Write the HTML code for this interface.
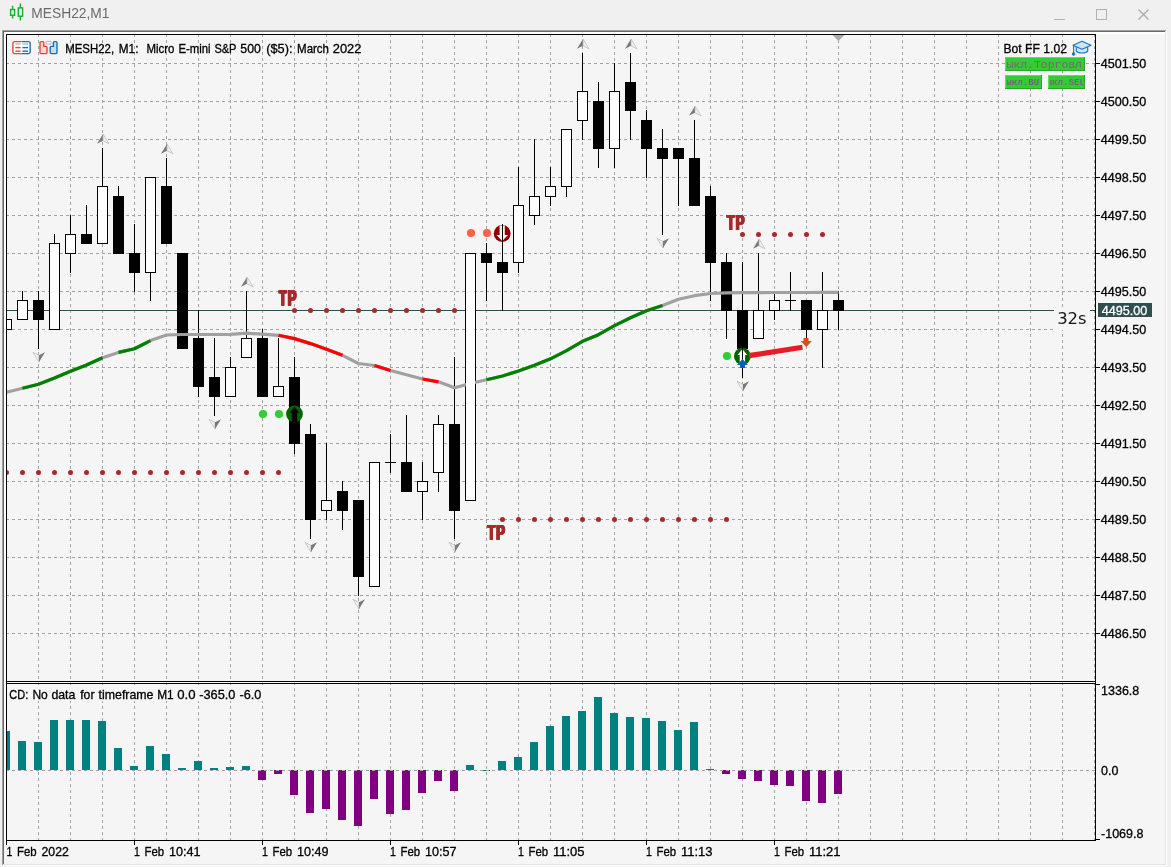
<!DOCTYPE html>
<html lang="en"><head><meta charset="utf-8"><title>MESH22,M1</title>
<style>
html,body{margin:0;padding:0;background:#f0f0f0;width:1171px;height:867px;overflow:hidden}
svg{display:block}
text{white-space:pre}
</style></head>
<body>
<svg width="1171" height="867" viewBox="0 0 1171 867">
<rect x="0" y="0" width="1171" height="867" fill="#f0f0f0" />
<rect x="2" y="30" width="1165" height="836" fill="#ffffff" />
<rect x="2" y="30" width="1164" height="835" fill="#a0a0a0" />
<rect x="3" y="31" width="1163" height="834" fill="#e3e3e3" />
<rect x="3" y="31" width="1162" height="833" fill="#696969" />
<rect x="4" y="32" width="1161" height="832" fill="#ffffff" />
<rect x="6" y="34" width="1159" height="830" fill="#f5f5f5" />
<rect x="1096" y="34" width="69" height="830" fill="#f5f5f5" />
<rect x="4" y="845" width="2" height="19" fill="#f5f5f5" />
<rect x="4" y="841" width="2" height="4" fill="#f5f5f5" />
<g fill="#daf8de" stroke="#1fa934" stroke-width="1.4">
<path d="M12.6 5.7V18.4M20.4 3.6V20.5" fill="none"/>
<rect x="10.6" y="9.5" width="4" height="5.8"/>
<rect x="18.3" y="7.9" width="4.3" height="8.3"/>
</g>
<text x="31.3" y="17.7" font-size="15.4" fill="#6a6a6a" stroke="#6a6a6a" stroke-width="0" font-family='"Liberation Sans", sans-serif' textLength="78.2" lengthAdjust="spacingAndGlyphs" >MESH22,M1</text>
<g shape-rendering="crispEdges" fill="none" stroke="#b2b2b2" stroke-width="1">
<path d="M1054 19.5H1065"/>
<rect x="1096.5" y="9.5" width="10" height="10"/>
</g>
<path d="M1138.5 9.5L1148.5 19.5M1148.5 9.5L1138.5 19.5" stroke="#aaaaaa" stroke-width="1.25" fill="none"/>
<g shape-rendering="crispEdges" stroke="#a2a2a2" stroke-width="1" fill="none" stroke-dasharray="3 3">
<path d="M6 63.5H1095"/>
<path d="M6 101.5H1095"/>
<path d="M6 139.5H1095"/>
<path d="M6 177.5H1095"/>
<path d="M6 215.5H1095"/>
<path d="M6 253.5H1095"/>
<path d="M6 291.5H1095"/>
<path d="M6 329.5H1095"/>
<path d="M6 367.5H1095"/>
<path d="M6 405.5H1095"/>
<path d="M6 443.5H1095"/>
<path d="M6 481.5H1095"/>
<path d="M6 519.5H1095"/>
<path d="M6 557.5H1095"/>
<path d="M6 595.5H1095"/>
<path d="M6 633.5H1095"/>
<path d="M38.5 34V681"/>
<path d="M38.5 682V840"/>
<path d="M70.5 34V681"/>
<path d="M70.5 682V840"/>
<path d="M102.5 34V681"/>
<path d="M102.5 682V840"/>
<path d="M134.5 34V681"/>
<path d="M134.5 682V840"/>
<path d="M166.5 34V681"/>
<path d="M166.5 682V840"/>
<path d="M198.5 34V681"/>
<path d="M198.5 682V840"/>
<path d="M230.5 34V681"/>
<path d="M230.5 682V840"/>
<path d="M262.5 34V681"/>
<path d="M262.5 682V840"/>
<path d="M294.5 34V681"/>
<path d="M294.5 682V840"/>
<path d="M326.5 34V681"/>
<path d="M326.5 682V840"/>
<path d="M358.5 34V681"/>
<path d="M358.5 682V840"/>
<path d="M390.5 34V681"/>
<path d="M390.5 682V840"/>
<path d="M422.5 34V681"/>
<path d="M422.5 682V840"/>
<path d="M454.5 34V681"/>
<path d="M454.5 682V840"/>
<path d="M486.5 34V681"/>
<path d="M486.5 682V840"/>
<path d="M518.5 34V681"/>
<path d="M518.5 682V840"/>
<path d="M550.5 34V681"/>
<path d="M550.5 682V840"/>
<path d="M582.5 34V681"/>
<path d="M582.5 682V840"/>
<path d="M614.5 34V681"/>
<path d="M614.5 682V840"/>
<path d="M646.5 34V681"/>
<path d="M646.5 682V840"/>
<path d="M678.5 34V681"/>
<path d="M678.5 682V840"/>
<path d="M710.5 34V681"/>
<path d="M710.5 682V840"/>
<path d="M742.5 34V681"/>
<path d="M742.5 682V840"/>
<path d="M774.5 34V681"/>
<path d="M774.5 682V840"/>
<path d="M806.5 34V681"/>
<path d="M806.5 682V840"/>
<path d="M838.5 34V681"/>
<path d="M838.5 682V840"/>
<path d="M870.5 34V681"/>
<path d="M870.5 682V840"/>
<path d="M902.5 34V681"/>
<path d="M902.5 682V840"/>
<path d="M934.5 34V681"/>
<path d="M934.5 682V840"/>
<path d="M966.5 34V681"/>
<path d="M966.5 682V840"/>
<path d="M998.5 34V681"/>
<path d="M998.5 682V840"/>
<path d="M1030.5 34V681"/>
<path d="M1030.5 682V840"/>
<path d="M1062.5 34V681"/>
<path d="M1062.5 682V840"/>
<path d="M1094.5 34V681"/>
<path d="M1094.5 682V840"/>
</g>
<rect x="1054" y="309" width="36" height="21" fill="#f5f5f5" />
<rect x="7" y="310" width="1047" height="1" fill="#2f4f4f" shape-rendering="crispEdges"/>
<rect x="1090" y="310" width="6" height="1" fill="#2f4f4f" shape-rendering="crispEdges"/>
<g shape-rendering="crispEdges">
<rect x="7" y="731" width="3" height="39" fill="#008080" />
<rect x="18" y="741" width="8" height="29" fill="#008080" />
<rect x="34" y="742" width="8" height="28" fill="#008080" />
<rect x="50" y="720" width="8" height="50" fill="#008080" />
<rect x="66" y="720" width="8" height="50" fill="#008080" />
<rect x="82" y="720" width="8" height="50" fill="#008080" />
<rect x="98" y="721" width="8" height="49" fill="#008080" />
<rect x="114" y="748" width="8" height="22" fill="#008080" />
<rect x="130" y="766" width="8" height="4" fill="#008080" />
<rect x="146" y="746" width="8" height="24" fill="#008080" />
<rect x="162" y="754" width="8" height="16" fill="#008080" />
<rect x="178" y="768" width="8" height="2" fill="#008080" />
<rect x="194" y="761" width="8" height="9" fill="#008080" />
<rect x="210" y="768" width="8" height="2" fill="#008080" />
<rect x="226" y="767" width="8" height="3" fill="#008080" />
<rect x="242" y="766" width="8" height="4" fill="#008080" />
<rect x="258" y="770" width="8" height="10" fill="#800080" />
<rect x="274" y="770" width="8" height="4" fill="#800080" />
<rect x="290" y="770" width="8" height="25" fill="#800080" />
<rect x="306" y="770" width="8" height="43" fill="#800080" />
<rect x="322" y="770" width="8" height="39" fill="#800080" />
<rect x="338" y="770" width="8" height="50" fill="#800080" />
<rect x="354" y="770" width="8" height="56" fill="#800080" />
<rect x="370" y="770" width="8" height="29" fill="#800080" />
<rect x="386" y="770" width="8" height="44" fill="#800080" />
<rect x="402" y="770" width="8" height="40" fill="#800080" />
<rect x="418" y="770" width="8" height="23" fill="#800080" />
<rect x="434" y="770" width="8" height="11" fill="#800080" />
<rect x="450" y="770" width="8" height="21" fill="#800080" />
<rect x="466" y="765" width="8" height="5" fill="#008080" />
<rect x="482" y="770" width="8" height="1" fill="#008080" />
<rect x="498" y="761" width="8" height="9" fill="#008080" />
<rect x="514" y="757" width="8" height="13" fill="#008080" />
<rect x="530" y="742" width="8" height="28" fill="#008080" />
<rect x="546" y="726" width="8" height="44" fill="#008080" />
<rect x="562" y="716" width="8" height="54" fill="#008080" />
<rect x="578" y="711" width="8" height="59" fill="#008080" />
<rect x="594" y="697" width="8" height="73" fill="#008080" />
<rect x="610" y="713" width="8" height="57" fill="#008080" />
<rect x="626" y="717" width="8" height="53" fill="#008080" />
<rect x="642" y="718" width="8" height="52" fill="#008080" />
<rect x="658" y="721" width="8" height="49" fill="#008080" />
<rect x="674" y="730" width="8" height="40" fill="#008080" />
<rect x="690" y="722" width="8" height="48" fill="#008080" />
<rect x="706" y="769" width="8" height="1" fill="#008080" />
<rect x="722" y="770" width="8" height="4" fill="#800080" />
<rect x="738" y="770" width="8" height="9" fill="#800080" />
<rect x="754" y="770" width="8" height="11" fill="#800080" />
<rect x="770" y="770" width="8" height="15" fill="#800080" />
<rect x="786" y="770" width="8" height="16" fill="#800080" />
<rect x="802" y="770" width="8" height="31" fill="#800080" />
<rect x="818" y="770" width="8" height="33" fill="#800080" />
<rect x="834" y="770" width="8" height="24" fill="#800080" />
</g>
<path d="M6 770.5H1095" shape-rendering="crispEdges" stroke="#a2a2a2" stroke-width="1" fill="none" stroke-dasharray="3 3"/>
<circle cx="6.5" cy="472.5" r="2.5" fill="#a52a2a"/>
<circle cx="22.5" cy="472.5" r="2.5" fill="#a52a2a"/>
<circle cx="38.5" cy="472.5" r="2.5" fill="#a52a2a"/>
<circle cx="54.5" cy="472.5" r="2.5" fill="#a52a2a"/>
<circle cx="70.5" cy="472.5" r="2.5" fill="#a52a2a"/>
<circle cx="86.5" cy="472.5" r="2.5" fill="#a52a2a"/>
<circle cx="102.5" cy="472.5" r="2.5" fill="#a52a2a"/>
<circle cx="118.5" cy="472.5" r="2.5" fill="#a52a2a"/>
<circle cx="134.5" cy="472.5" r="2.5" fill="#a52a2a"/>
<circle cx="150.5" cy="472.5" r="2.5" fill="#a52a2a"/>
<circle cx="166.5" cy="472.5" r="2.5" fill="#a52a2a"/>
<circle cx="182.5" cy="472.5" r="2.5" fill="#a52a2a"/>
<circle cx="198.5" cy="472.5" r="2.5" fill="#a52a2a"/>
<circle cx="214.5" cy="472.5" r="2.5" fill="#a52a2a"/>
<circle cx="230.5" cy="472.5" r="2.5" fill="#a52a2a"/>
<circle cx="246.5" cy="472.5" r="2.5" fill="#a52a2a"/>
<circle cx="262.5" cy="472.5" r="2.5" fill="#a52a2a"/>
<circle cx="278.5" cy="472.5" r="2.5" fill="#a52a2a"/>
<circle cx="263" cy="414" r="4.1" fill="#32cd32"/>
<circle cx="279" cy="414" r="4.1" fill="#32cd32"/>
<circle cx="471" cy="233" r="4.1" fill="#ff6347"/>
<circle cx="487" cy="233" r="4.1" fill="#ff6347"/>
<circle cx="727" cy="356" r="4.1" fill="#32cd32"/>
<g shape-rendering="crispEdges">
<rect x="7" y="319" width="5" height="11" fill="#000" />
<rect x="7" y="320" width="4" height="9" fill="#fff" />
<rect x="22" y="291" width="1" height="29" fill="#000" />
<rect x="17" y="300" width="11" height="20" fill="#000" />
<rect x="18" y="301" width="9" height="18" fill="#fff" />
<rect x="38" y="291" width="1" height="58" fill="#000" />
<rect x="33" y="300" width="11" height="20" fill="#000" />
<rect x="54" y="234" width="1" height="96" fill="#000" />
<rect x="49" y="243" width="11" height="87" fill="#000" />
<rect x="50" y="244" width="9" height="85" fill="#fff" />
<rect x="70" y="215" width="1" height="58" fill="#000" />
<rect x="65" y="234" width="11" height="20" fill="#000" />
<rect x="66" y="235" width="9" height="18" fill="#fff" />
<rect x="86" y="205" width="1" height="39" fill="#000" />
<rect x="81" y="234" width="11" height="10" fill="#000" />
<rect x="102" y="148" width="1" height="96" fill="#000" />
<rect x="97" y="186" width="11" height="58" fill="#000" />
<rect x="98" y="187" width="9" height="56" fill="#fff" />
<rect x="118" y="186" width="1" height="68" fill="#000" />
<rect x="113" y="196" width="11" height="58" fill="#000" />
<rect x="134" y="224" width="1" height="68" fill="#000" />
<rect x="129" y="253" width="11" height="20" fill="#000" />
<rect x="150" y="177" width="1" height="124" fill="#000" />
<rect x="145" y="177" width="11" height="96" fill="#000" />
<rect x="146" y="178" width="9" height="94" fill="#fff" />
<rect x="166" y="158" width="1" height="86" fill="#000" />
<rect x="161" y="186" width="11" height="58" fill="#000" />
<rect x="182" y="253" width="1" height="96" fill="#000" />
<rect x="177" y="253" width="11" height="96" fill="#000" />
<rect x="198" y="310" width="1" height="87" fill="#000" />
<rect x="193" y="338" width="11" height="49" fill="#000" />
<rect x="214" y="338" width="1" height="78" fill="#000" />
<rect x="209" y="377" width="11" height="20" fill="#000" />
<rect x="230" y="357" width="1" height="40" fill="#000" />
<rect x="225" y="367" width="11" height="30" fill="#000" />
<rect x="226" y="368" width="9" height="28" fill="#fff" />
<rect x="246" y="291" width="1" height="67" fill="#000" />
<rect x="241" y="338" width="11" height="20" fill="#000" />
<rect x="242" y="339" width="9" height="18" fill="#fff" />
<rect x="262" y="329" width="1" height="68" fill="#000" />
<rect x="257" y="338" width="11" height="59" fill="#000" />
<rect x="278" y="338" width="1" height="59" fill="#000" />
<rect x="273" y="386" width="11" height="11" fill="#000" />
<rect x="274" y="387" width="9" height="9" fill="#fff" />
<rect x="294" y="357" width="1" height="97" fill="#000" />
<rect x="289" y="377" width="11" height="67" fill="#000" />
<rect x="310" y="424" width="1" height="115" fill="#000" />
<rect x="305" y="434" width="11" height="86" fill="#000" />
<rect x="326" y="443" width="1" height="77" fill="#000" />
<rect x="321" y="500" width="11" height="11" fill="#000" />
<rect x="322" y="501" width="9" height="9" fill="#fff" />
<rect x="342" y="481" width="1" height="49" fill="#000" />
<rect x="337" y="491" width="11" height="20" fill="#000" />
<rect x="358" y="500" width="1" height="96" fill="#000" />
<rect x="353" y="500" width="11" height="77" fill="#000" />
<rect x="374" y="462" width="1" height="125" fill="#000" />
<rect x="369" y="462" width="11" height="125" fill="#000" />
<rect x="370" y="463" width="9" height="123" fill="#fff" />
<rect x="390" y="434" width="1" height="39" fill="#000" />
<rect x="385" y="462" width="11" height="1" fill="#000" />
<rect x="406" y="415" width="1" height="77" fill="#000" />
<rect x="401" y="462" width="11" height="30" fill="#000" />
<rect x="422" y="462" width="1" height="58" fill="#000" />
<rect x="417" y="481" width="11" height="11" fill="#000" />
<rect x="418" y="482" width="9" height="9" fill="#fff" />
<rect x="438" y="415" width="1" height="77" fill="#000" />
<rect x="433" y="424" width="11" height="49" fill="#000" />
<rect x="434" y="425" width="9" height="47" fill="#fff" />
<rect x="454" y="357" width="1" height="182" fill="#000" />
<rect x="449" y="424" width="11" height="87" fill="#000" />
<rect x="470" y="253" width="1" height="248" fill="#000" />
<rect x="465" y="253" width="11" height="248" fill="#000" />
<rect x="466" y="254" width="9" height="246" fill="#fff" />
<rect x="486" y="243" width="1" height="58" fill="#000" />
<rect x="481" y="253" width="11" height="10" fill="#000" />
<rect x="502" y="224" width="1" height="87" fill="#000" />
<rect x="497" y="262" width="11" height="11" fill="#000" />
<rect x="518" y="167" width="1" height="106" fill="#000" />
<rect x="513" y="205" width="11" height="58" fill="#000" />
<rect x="514" y="206" width="9" height="56" fill="#fff" />
<rect x="534" y="139" width="1" height="86" fill="#000" />
<rect x="529" y="196" width="11" height="20" fill="#000" />
<rect x="530" y="197" width="9" height="18" fill="#fff" />
<rect x="550" y="167" width="1" height="39" fill="#000" />
<rect x="545" y="186" width="11" height="11" fill="#000" />
<rect x="546" y="187" width="9" height="9" fill="#fff" />
<rect x="566" y="129" width="1" height="68" fill="#000" />
<rect x="561" y="129" width="11" height="58" fill="#000" />
<rect x="562" y="130" width="9" height="56" fill="#fff" />
<rect x="582" y="53" width="1" height="87" fill="#000" />
<rect x="577" y="91" width="11" height="30" fill="#000" />
<rect x="578" y="92" width="9" height="28" fill="#fff" />
<rect x="598" y="82" width="1" height="86" fill="#000" />
<rect x="593" y="101" width="11" height="48" fill="#000" />
<rect x="614" y="63" width="1" height="105" fill="#000" />
<rect x="609" y="91" width="11" height="58" fill="#000" />
<rect x="610" y="92" width="9" height="56" fill="#fff" />
<rect x="630" y="53" width="1" height="87" fill="#000" />
<rect x="625" y="82" width="11" height="29" fill="#000" />
<rect x="646" y="110" width="1" height="68" fill="#000" />
<rect x="641" y="120" width="11" height="29" fill="#000" />
<rect x="662" y="129" width="1" height="106" fill="#000" />
<rect x="657" y="148" width="11" height="11" fill="#000" />
<rect x="678" y="148" width="1" height="58" fill="#000" />
<rect x="673" y="148" width="11" height="11" fill="#000" />
<rect x="694" y="120" width="1" height="86" fill="#000" />
<rect x="689" y="158" width="11" height="48" fill="#000" />
<rect x="710" y="186" width="1" height="115" fill="#000" />
<rect x="705" y="196" width="11" height="67" fill="#000" />
<rect x="726" y="253" width="1" height="86" fill="#000" />
<rect x="721" y="262" width="11" height="49" fill="#000" />
<rect x="742" y="262" width="1" height="116" fill="#000" />
<rect x="737" y="310" width="11" height="39" fill="#000" />
<rect x="758" y="253" width="1" height="86" fill="#000" />
<rect x="753" y="310" width="11" height="29" fill="#000" />
<rect x="754" y="311" width="9" height="27" fill="#fff" />
<rect x="774" y="291" width="1" height="29" fill="#000" />
<rect x="769" y="300" width="11" height="11" fill="#000" />
<rect x="770" y="301" width="9" height="9" fill="#fff" />
<rect x="790" y="272" width="1" height="39" fill="#000" />
<rect x="785" y="300" width="11" height="1" fill="#000" />
<rect x="806" y="300" width="1" height="39" fill="#000" />
<rect x="801" y="300" width="11" height="30" fill="#000" />
<rect x="822" y="272" width="1" height="96" fill="#000" />
<rect x="817" y="310" width="11" height="20" fill="#000" />
<rect x="818" y="311" width="9" height="18" fill="#fff" />
<rect x="838" y="291" width="1" height="39" fill="#000" />
<rect x="833" y="300" width="11" height="11" fill="#000" />
</g>
<path d="M103 134L97 143.8L103 140.8Z" fill="#787878"/>
<path d="M103 134L109 143.8L103 140.8Z" fill="#f0f0f0" stroke="#b4b4c0" stroke-width="0.7"/>
<path d="M167 144L161 153.8L167 150.8Z" fill="#787878"/>
<path d="M167 144L173 153.8L167 150.8Z" fill="#f0f0f0" stroke="#b4b4c0" stroke-width="0.7"/>
<path d="M247 277L241 286.8L247 283.8Z" fill="#787878"/>
<path d="M247 277L253 286.8L247 283.8Z" fill="#f0f0f0" stroke="#b4b4c0" stroke-width="0.7"/>
<path d="M583 39L577 48.8L583 45.8Z" fill="#787878"/>
<path d="M583 39L589 48.8L583 45.8Z" fill="#f0f0f0" stroke="#b4b4c0" stroke-width="0.7"/>
<path d="M631 39L625 48.8L631 45.8Z" fill="#787878"/>
<path d="M631 39L637 48.8L631 45.8Z" fill="#f0f0f0" stroke="#b4b4c0" stroke-width="0.7"/>
<path d="M695 106L689 115.8L695 112.8Z" fill="#787878"/>
<path d="M695 106L701 115.8L695 112.8Z" fill="#f0f0f0" stroke="#b4b4c0" stroke-width="0.7"/>
<path d="M759 239L753 248.8L759 245.8Z" fill="#787878"/>
<path d="M759 239L765 248.8L759 245.8Z" fill="#f0f0f0" stroke="#b4b4c0" stroke-width="0.7"/>
<path d="M39 362.1L33 352.3L39 355.3Z" fill="#f0f0f0" stroke="#b4b4c0" stroke-width="0.7"/>
<path d="M39 362.1L45 352.3L39 355.3Z" fill="#787878"/>
<path d="M215 429.1L209 419.3L215 422.3Z" fill="#f0f0f0" stroke="#b4b4c0" stroke-width="0.7"/>
<path d="M215 429.1L221 419.3L215 422.3Z" fill="#787878"/>
<path d="M311 552.1L305 542.3L311 545.3Z" fill="#f0f0f0" stroke="#b4b4c0" stroke-width="0.7"/>
<path d="M311 552.1L317 542.3L311 545.3Z" fill="#787878"/>
<path d="M359 609.1L353 599.3L359 602.3Z" fill="#f0f0f0" stroke="#b4b4c0" stroke-width="0.7"/>
<path d="M359 609.1L365 599.3L359 602.3Z" fill="#787878"/>
<path d="M455 552.1L449 542.3L455 545.3Z" fill="#f0f0f0" stroke="#b4b4c0" stroke-width="0.7"/>
<path d="M455 552.1L461 542.3L455 545.3Z" fill="#787878"/>
<path d="M663 248.1L657 238.3L663 241.3Z" fill="#f0f0f0" stroke="#b4b4c0" stroke-width="0.7"/>
<path d="M663 248.1L669 238.3L663 241.3Z" fill="#787878"/>
<path d="M743 391.1L737 381.3L743 384.3Z" fill="#f0f0f0" stroke="#b4b4c0" stroke-width="0.7"/>
<path d="M743 391.1L749 381.3L743 384.3Z" fill="#787878"/>
<polyline points="6.5,392.3 22.5,388.3 38.5,384.2 54.5,378 70.5,371.3 86.5,365 102.5,357.7 118.5,352.4 134.5,348.7 150.5,340.6 166.5,335 182.5,334.5 198.5,334.5 214.5,334.5 230.5,334.3 246.5,333.2 262.5,334.2 278.5,335.3 294.5,338.6 310.5,343.6 326.5,349.3 342.5,355.3 358.5,363.5 374.5,365.5 390.5,370.5 406.5,374.7 422.5,379 438.5,381.8 454.5,387.7 470.5,383.5 486.5,379.7 502.5,376 518.5,371 534.5,365.3 550.5,358.8 566.5,350.6 582.5,341.3 598.5,334.7 614.5,325.6 630.5,317.7 646.5,310.8 662.5,305.6 678.5,299.3 694.5,295.7 710.5,293.5 726.5,292.8 742.5,292.6 758.5,292.6 774.5,292.5 790.5,292.5 806.5,292.5 822.5,292.4 838.5,292.3" fill="none" stroke="#a0a0a0" stroke-width="3.2" stroke-linejoin="round"/>
<polyline points="22.5,388.3 38.5,384.2 54.5,378 70.5,371.3 86.5,365 102.5,357.7" fill="none" stroke="#008000" stroke-width="3.2" stroke-linejoin="round"/>
<polyline points="118.5,352.4 134.5,348.7 150.5,340.6" fill="none" stroke="#008000" stroke-width="3.2" stroke-linejoin="round"/>
<polyline points="278.5,335.3 294.5,338.6 310.5,343.6 326.5,349.3 342.5,355.3" fill="none" stroke="#ff0000" stroke-width="3.2" stroke-linejoin="round"/>
<polyline points="374.5,365.5 390.5,370.5" fill="none" stroke="#ff0000" stroke-width="3.2" stroke-linejoin="round"/>
<polyline points="422.5,379 438.5,381.8" fill="none" stroke="#ff0000" stroke-width="3.2" stroke-linejoin="round"/>
<polyline points="486.5,379.7 502.5,376 518.5,371 534.5,365.3 550.5,358.8 566.5,350.6 582.5,341.3 598.5,334.7 614.5,325.6 630.5,317.7 646.5,310.8 662.5,305.6" fill="none" stroke="#008000" stroke-width="3.2" stroke-linejoin="round"/>
<g shape-rendering="crispEdges">
<rect x="18" y="301" width="9" height="18" fill="#fff" />
<rect x="50" y="244" width="9" height="85" fill="#fff" />
<rect x="66" y="235" width="9" height="18" fill="#fff" />
<rect x="98" y="187" width="9" height="56" fill="#fff" />
<rect x="146" y="178" width="9" height="94" fill="#fff" />
<rect x="226" y="368" width="9" height="28" fill="#fff" />
<rect x="242" y="339" width="9" height="18" fill="#fff" />
<rect x="274" y="387" width="9" height="9" fill="#fff" />
<rect x="322" y="501" width="9" height="9" fill="#fff" />
<rect x="370" y="463" width="9" height="123" fill="#fff" />
<rect x="418" y="482" width="9" height="9" fill="#fff" />
<rect x="434" y="425" width="9" height="47" fill="#fff" />
<rect x="466" y="254" width="9" height="246" fill="#fff" />
<rect x="514" y="206" width="9" height="56" fill="#fff" />
<rect x="530" y="197" width="9" height="18" fill="#fff" />
<rect x="546" y="187" width="9" height="9" fill="#fff" />
<rect x="562" y="130" width="9" height="56" fill="#fff" />
<rect x="578" y="92" width="9" height="28" fill="#fff" />
<rect x="610" y="92" width="9" height="56" fill="#fff" />
<rect x="754" y="311" width="9" height="27" fill="#fff" />
<rect x="770" y="301" width="9" height="9" fill="#fff" />
<rect x="818" y="311" width="9" height="18" fill="#fff" />
</g>
<circle cx="294.5" cy="310.5" r="2.5" fill="#a52a2a"/>
<circle cx="310.5" cy="310.5" r="2.5" fill="#a52a2a"/>
<circle cx="326.5" cy="310.5" r="2.5" fill="#a52a2a"/>
<circle cx="342.5" cy="310.5" r="2.5" fill="#a52a2a"/>
<circle cx="358.5" cy="310.5" r="2.5" fill="#a52a2a"/>
<circle cx="374.5" cy="310.5" r="2.5" fill="#a52a2a"/>
<circle cx="390.5" cy="310.5" r="2.5" fill="#a52a2a"/>
<circle cx="406.5" cy="310.5" r="2.5" fill="#a52a2a"/>
<circle cx="422.5" cy="310.5" r="2.5" fill="#a52a2a"/>
<circle cx="438.5" cy="310.5" r="2.5" fill="#a52a2a"/>
<circle cx="454.5" cy="310.5" r="2.5" fill="#a52a2a"/>
<circle cx="502.5" cy="519.5" r="2.5" fill="#a52a2a"/>
<circle cx="518.5" cy="519.5" r="2.5" fill="#a52a2a"/>
<circle cx="534.5" cy="519.5" r="2.5" fill="#a52a2a"/>
<circle cx="550.5" cy="519.5" r="2.5" fill="#a52a2a"/>
<circle cx="566.5" cy="519.5" r="2.5" fill="#a52a2a"/>
<circle cx="582.5" cy="519.5" r="2.5" fill="#a52a2a"/>
<circle cx="598.5" cy="519.5" r="2.5" fill="#a52a2a"/>
<circle cx="614.5" cy="519.5" r="2.5" fill="#a52a2a"/>
<circle cx="630.5" cy="519.5" r="2.5" fill="#a52a2a"/>
<circle cx="646.5" cy="519.5" r="2.5" fill="#a52a2a"/>
<circle cx="662.5" cy="519.5" r="2.5" fill="#a52a2a"/>
<circle cx="678.5" cy="519.5" r="2.5" fill="#a52a2a"/>
<circle cx="694.5" cy="519.5" r="2.5" fill="#a52a2a"/>
<circle cx="710.5" cy="519.5" r="2.5" fill="#a52a2a"/>
<circle cx="726.5" cy="519.5" r="2.5" fill="#a52a2a"/>
<circle cx="742.5" cy="234.5" r="2.5" fill="#a52a2a"/>
<circle cx="758.5" cy="234.5" r="2.5" fill="#a52a2a"/>
<circle cx="774.5" cy="234.5" r="2.5" fill="#a52a2a"/>
<circle cx="790.5" cy="234.5" r="2.5" fill="#a52a2a"/>
<circle cx="806.5" cy="234.5" r="2.5" fill="#a52a2a"/>
<circle cx="822.5" cy="234.5" r="2.5" fill="#a52a2a"/>
<g fill="#a52a2a" font-family='"Liberation Sans", sans-serif' font-weight="bold" font-size="22.8" letter-spacing="1.75">
<text transform="translate(278.15,305.8) scale(0.568,1)">TP</text>
<text transform="translate(278.85,305.8) scale(0.568,1)">TP</text>
<text transform="translate(279.55,305.8) scale(0.568,1)">TP</text>
<text transform="translate(278.15,305.3) scale(0.568,1)">TP</text>
<text transform="translate(278.85,305.3) scale(0.568,1)">TP</text>
<text transform="translate(279.55,305.3) scale(0.568,1)">TP</text>
</g>
<g fill="#a52a2a" font-family='"Liberation Sans", sans-serif' font-weight="bold" font-size="22.8" letter-spacing="1.75">
<text transform="translate(486.65,540.2) scale(0.568,1)">TP</text>
<text transform="translate(487.35,540.2) scale(0.568,1)">TP</text>
<text transform="translate(488.05,540.2) scale(0.568,1)">TP</text>
<text transform="translate(486.65,539.7) scale(0.568,1)">TP</text>
<text transform="translate(487.35,539.7) scale(0.568,1)">TP</text>
<text transform="translate(488.05,539.7) scale(0.568,1)">TP</text>
</g>
<g fill="#a52a2a" font-family='"Liberation Sans", sans-serif' font-weight="bold" font-size="22.8" letter-spacing="1.75">
<text transform="translate(726.15,230) scale(0.568,1)">TP</text>
<text transform="translate(726.85,230) scale(0.568,1)">TP</text>
<text transform="translate(727.55,230) scale(0.568,1)">TP</text>
<text transform="translate(726.15,229.5) scale(0.568,1)">TP</text>
<text transform="translate(726.85,229.5) scale(0.568,1)">TP</text>
<text transform="translate(727.55,229.5) scale(0.568,1)">TP</text>
</g>
<circle cx="294.5" cy="414" r="8.4" fill="#006400"/>
<path d="M294.5 406.8L299.3 412.8H297.2V422H291.8V412.8H289.7Z" fill="#000"/>
<circle cx="502.2" cy="233.5" r="8.4" fill="#8b0000"/>
<path d="M502.2 240.9L508 235.1H504.8V225.5H499.6V235.1H496.4Z" fill="#f5f5f5"/>
<rect x="502" y="224" width="1" height="22" fill="#000" shape-rendering="crispEdges"/>
<circle cx="742.4" cy="356.2" r="8.4" fill="#006400"/>
<path d="M742.4 349L747.2 355H745.1V364.2H739.7V355H737.6Z" fill="#fff"/>
<rect x="742" y="347" width="1" height="16" fill="#000" shape-rendering="crispEdges"/>
<path d="M749 355.6L802.5 347.3" stroke="#e81c24" stroke-width="5.2" fill="none"/>
<path d="M803.5 338H808.5V341H811.8L806.3 347L800.8 341H803.5Z" fill="#de4a1c"/>
<path d="M742.5 359L748 365H745V368H740V365H737Z" fill="#0b5fb8"/>
<g shape-rendering="crispEdges">
<rect x="4" y="34" width="2" height="807" fill="#fff" />
<rect x="6" y="34" width="1090" height="1" fill="#000" />
<rect x="6" y="681" width="1090" height="1" fill="#000" />
<rect x="6" y="682" width="1090" height="1" fill="#fafafa" />
<rect x="6" y="683" width="1090" height="1" fill="#000" />
<rect x="6" y="840" width="1090" height="1" fill="#000" />
<rect x="6" y="34" width="1" height="811" fill="#000" />
<rect x="1095" y="34" width="1" height="807" fill="#000" />
<path d="M832.5 35H844.5L838.5 41Z" fill="#a9a9a9" shape-rendering="geometricPrecision"/>
<rect x="1096" y="63" width="4" height="1" fill="#000" />
<rect x="1096" y="101" width="4" height="1" fill="#000" />
<rect x="1096" y="139" width="4" height="1" fill="#000" />
<rect x="1096" y="177" width="4" height="1" fill="#000" />
<rect x="1096" y="215" width="4" height="1" fill="#000" />
<rect x="1096" y="253" width="4" height="1" fill="#000" />
<rect x="1096" y="291" width="4" height="1" fill="#000" />
<rect x="1096" y="329" width="4" height="1" fill="#000" />
<rect x="1096" y="367" width="4" height="1" fill="#000" />
<rect x="1096" y="405" width="4" height="1" fill="#000" />
<rect x="1096" y="443" width="4" height="1" fill="#000" />
<rect x="1096" y="481" width="4" height="1" fill="#000" />
<rect x="1096" y="519" width="4" height="1" fill="#000" />
<rect x="1096" y="557" width="4" height="1" fill="#000" />
<rect x="1096" y="595" width="4" height="1" fill="#000" />
<rect x="1096" y="633" width="4" height="1" fill="#000" />
<rect x="1096" y="684" width="4" height="1" fill="#000" />
<rect x="1096" y="839" width="4" height="1" fill="#000" />
<rect x="134" y="841" width="1" height="4" fill="#000" />
<rect x="262" y="841" width="1" height="4" fill="#000" />
<rect x="390" y="841" width="1" height="4" fill="#000" />
<rect x="518" y="841" width="1" height="4" fill="#000" />
<rect x="646" y="841" width="1" height="4" fill="#000" />
<rect x="774" y="841" width="1" height="4" fill="#000" />
</g>
<text x="1100.7" y="67.8" font-size="12.4" fill="#000" stroke="#000" stroke-width="0.3" font-family='"Liberation Sans", sans-serif' textLength="45.6" lengthAdjust="spacingAndGlyphs" >4501.50</text>
<text x="1100.7" y="105.8" font-size="12.4" fill="#000" stroke="#000" stroke-width="0.3" font-family='"Liberation Sans", sans-serif' textLength="45.6" lengthAdjust="spacingAndGlyphs" >4500.50</text>
<text x="1100.7" y="143.8" font-size="12.4" fill="#000" stroke="#000" stroke-width="0.3" font-family='"Liberation Sans", sans-serif' textLength="45.6" lengthAdjust="spacingAndGlyphs" >4499.50</text>
<text x="1100.7" y="181.8" font-size="12.4" fill="#000" stroke="#000" stroke-width="0.3" font-family='"Liberation Sans", sans-serif' textLength="45.6" lengthAdjust="spacingAndGlyphs" >4498.50</text>
<text x="1100.7" y="219.8" font-size="12.4" fill="#000" stroke="#000" stroke-width="0.3" font-family='"Liberation Sans", sans-serif' textLength="45.6" lengthAdjust="spacingAndGlyphs" >4497.50</text>
<text x="1100.7" y="257.8" font-size="12.4" fill="#000" stroke="#000" stroke-width="0.3" font-family='"Liberation Sans", sans-serif' textLength="45.6" lengthAdjust="spacingAndGlyphs" >4496.50</text>
<text x="1100.7" y="295.8" font-size="12.4" fill="#000" stroke="#000" stroke-width="0.3" font-family='"Liberation Sans", sans-serif' textLength="45.6" lengthAdjust="spacingAndGlyphs" >4495.50</text>
<text x="1100.7" y="333.8" font-size="12.4" fill="#000" stroke="#000" stroke-width="0.3" font-family='"Liberation Sans", sans-serif' textLength="45.6" lengthAdjust="spacingAndGlyphs" >4494.50</text>
<text x="1100.7" y="371.8" font-size="12.4" fill="#000" stroke="#000" stroke-width="0.3" font-family='"Liberation Sans", sans-serif' textLength="45.6" lengthAdjust="spacingAndGlyphs" >4493.50</text>
<text x="1100.7" y="409.8" font-size="12.4" fill="#000" stroke="#000" stroke-width="0.3" font-family='"Liberation Sans", sans-serif' textLength="45.6" lengthAdjust="spacingAndGlyphs" >4492.50</text>
<text x="1100.7" y="447.8" font-size="12.4" fill="#000" stroke="#000" stroke-width="0.3" font-family='"Liberation Sans", sans-serif' textLength="45.6" lengthAdjust="spacingAndGlyphs" >4491.50</text>
<text x="1100.7" y="485.8" font-size="12.4" fill="#000" stroke="#000" stroke-width="0.3" font-family='"Liberation Sans", sans-serif' textLength="45.6" lengthAdjust="spacingAndGlyphs" >4490.50</text>
<text x="1100.7" y="523.8" font-size="12.4" fill="#000" stroke="#000" stroke-width="0.3" font-family='"Liberation Sans", sans-serif' textLength="45.6" lengthAdjust="spacingAndGlyphs" >4489.50</text>
<text x="1100.7" y="561.8" font-size="12.4" fill="#000" stroke="#000" stroke-width="0.3" font-family='"Liberation Sans", sans-serif' textLength="45.6" lengthAdjust="spacingAndGlyphs" >4488.50</text>
<text x="1100.7" y="599.8" font-size="12.4" fill="#000" stroke="#000" stroke-width="0.3" font-family='"Liberation Sans", sans-serif' textLength="45.6" lengthAdjust="spacingAndGlyphs" >4487.50</text>
<text x="1100.7" y="637.8" font-size="12.4" fill="#000" stroke="#000" stroke-width="0.3" font-family='"Liberation Sans", sans-serif' textLength="45.6" lengthAdjust="spacingAndGlyphs" >4486.50</text>
<text x="1101" y="695.4" font-size="12.4" fill="#000" stroke="#000" stroke-width="0.3" font-family='"Liberation Sans", sans-serif' textLength="38.3" lengthAdjust="spacingAndGlyphs" >1336.8</text>
<text x="1101" y="775" font-size="12.4" fill="#000" stroke="#000" stroke-width="0.3" font-family='"Liberation Sans", sans-serif' textLength="17.4" lengthAdjust="spacingAndGlyphs" >0.0</text>
<text x="1101" y="838" font-size="12.4" fill="#000" stroke="#000" stroke-width="0.3" font-family='"Liberation Sans", sans-serif' textLength="42.5" lengthAdjust="spacingAndGlyphs" >-1069.8</text>
<rect x="1098" y="303" width="54" height="14" fill="#2f4f4f" shape-rendering="crispEdges"/>
<text x="1101.7" y="314.8" font-size="12.4" fill="#fff" stroke="#fff" stroke-width="0.3" font-family='"Liberation Sans", sans-serif' textLength="45.6" lengthAdjust="spacingAndGlyphs" >4495.00</text>
<text x="6.6" y="856" font-size="12.4" fill="#000" stroke="#000" stroke-width="0.3" font-family='"Liberation Sans", sans-serif' textLength="5.9" lengthAdjust="spacingAndGlyphs" >1</text>
<text x="17.1" y="856" font-size="12.4" fill="#000" stroke="#000" stroke-width="0.3" font-family='"Liberation Sans", sans-serif' textLength="19.6" lengthAdjust="spacingAndGlyphs" >Feb</text>
<text x="41.5" y="856" font-size="12.4" fill="#000" stroke="#000" stroke-width="0.3" font-family='"Liberation Sans", sans-serif' textLength="27.4" lengthAdjust="spacingAndGlyphs" >2022</text>
<text x="134.1" y="856" font-size="12.4" fill="#000" stroke="#000" stroke-width="0.3" font-family='"Liberation Sans", sans-serif' textLength="5.9" lengthAdjust="spacingAndGlyphs" >1</text>
<text x="144.6" y="856" font-size="12.4" fill="#000" stroke="#000" stroke-width="0.3" font-family='"Liberation Sans", sans-serif' textLength="19.6" lengthAdjust="spacingAndGlyphs" >Feb</text>
<text x="169" y="856" font-size="12.4" fill="#000" stroke="#000" stroke-width="0.3" font-family='"Liberation Sans", sans-serif' textLength="31.6" lengthAdjust="spacingAndGlyphs" >10:41</text>
<text x="262.1" y="856" font-size="12.4" fill="#000" stroke="#000" stroke-width="0.3" font-family='"Liberation Sans", sans-serif' textLength="5.9" lengthAdjust="spacingAndGlyphs" >1</text>
<text x="272.6" y="856" font-size="12.4" fill="#000" stroke="#000" stroke-width="0.3" font-family='"Liberation Sans", sans-serif' textLength="19.6" lengthAdjust="spacingAndGlyphs" >Feb</text>
<text x="297" y="856" font-size="12.4" fill="#000" stroke="#000" stroke-width="0.3" font-family='"Liberation Sans", sans-serif' textLength="31.6" lengthAdjust="spacingAndGlyphs" >10:49</text>
<text x="390.1" y="856" font-size="12.4" fill="#000" stroke="#000" stroke-width="0.3" font-family='"Liberation Sans", sans-serif' textLength="5.9" lengthAdjust="spacingAndGlyphs" >1</text>
<text x="400.6" y="856" font-size="12.4" fill="#000" stroke="#000" stroke-width="0.3" font-family='"Liberation Sans", sans-serif' textLength="19.6" lengthAdjust="spacingAndGlyphs" >Feb</text>
<text x="425" y="856" font-size="12.4" fill="#000" stroke="#000" stroke-width="0.3" font-family='"Liberation Sans", sans-serif' textLength="31.6" lengthAdjust="spacingAndGlyphs" >10:57</text>
<text x="518.1" y="856" font-size="12.4" fill="#000" stroke="#000" stroke-width="0.3" font-family='"Liberation Sans", sans-serif' textLength="5.9" lengthAdjust="spacingAndGlyphs" >1</text>
<text x="528.6" y="856" font-size="12.4" fill="#000" stroke="#000" stroke-width="0.3" font-family='"Liberation Sans", sans-serif' textLength="19.6" lengthAdjust="spacingAndGlyphs" >Feb</text>
<text x="553" y="856" font-size="12.4" fill="#000" stroke="#000" stroke-width="0.3" font-family='"Liberation Sans", sans-serif' textLength="31.6" lengthAdjust="spacingAndGlyphs" >11:05</text>
<text x="646.1" y="856" font-size="12.4" fill="#000" stroke="#000" stroke-width="0.3" font-family='"Liberation Sans", sans-serif' textLength="5.9" lengthAdjust="spacingAndGlyphs" >1</text>
<text x="656.6" y="856" font-size="12.4" fill="#000" stroke="#000" stroke-width="0.3" font-family='"Liberation Sans", sans-serif' textLength="19.6" lengthAdjust="spacingAndGlyphs" >Feb</text>
<text x="681" y="856" font-size="12.4" fill="#000" stroke="#000" stroke-width="0.3" font-family='"Liberation Sans", sans-serif' textLength="31.6" lengthAdjust="spacingAndGlyphs" >11:13</text>
<text x="774.1" y="856" font-size="12.4" fill="#000" stroke="#000" stroke-width="0.3" font-family='"Liberation Sans", sans-serif' textLength="5.9" lengthAdjust="spacingAndGlyphs" >1</text>
<text x="784.6" y="856" font-size="12.4" fill="#000" stroke="#000" stroke-width="0.3" font-family='"Liberation Sans", sans-serif' textLength="19.6" lengthAdjust="spacingAndGlyphs" >Feb</text>
<text x="809" y="856" font-size="12.4" fill="#000" stroke="#000" stroke-width="0.3" font-family='"Liberation Sans", sans-serif' textLength="31.6" lengthAdjust="spacingAndGlyphs" >11:21</text>
<text x="65.2" y="52.6" font-size="12.4" fill="#000" stroke="#000" stroke-width="0.3" font-family='"Liberation Sans", sans-serif' textLength="48.9" lengthAdjust="spacingAndGlyphs" >MESH22,</text>
<text x="118.8" y="52.6" font-size="12.4" fill="#000" stroke="#000" stroke-width="0.3" font-family='"Liberation Sans", sans-serif' textLength="19.6" lengthAdjust="spacingAndGlyphs" >M1:</text>
<text x="146.4" y="52.6" font-size="12.4" fill="#000" stroke="#000" stroke-width="0.3" font-family='"Liberation Sans", sans-serif' textLength="28" lengthAdjust="spacingAndGlyphs" >Micro</text>
<text x="178.5" y="52.6" font-size="12.4" fill="#000" stroke="#000" stroke-width="0.3" font-family='"Liberation Sans", sans-serif' textLength="32.1" lengthAdjust="spacingAndGlyphs" >E-mini</text>
<text x="214.4" y="52.6" font-size="12.4" fill="#000" stroke="#000" stroke-width="0.3" font-family='"Liberation Sans", sans-serif' textLength="22.1" lengthAdjust="spacingAndGlyphs" >S&amp;P</text>
<text x="240.3" y="52.6" font-size="12.4" fill="#000" stroke="#000" stroke-width="0.3" font-family='"Liberation Sans", sans-serif' textLength="20.5" lengthAdjust="spacingAndGlyphs" >500</text>
<text x="266.3" y="52.6" font-size="12.4" fill="#000" stroke="#000" stroke-width="0.3" font-family='"Liberation Sans", sans-serif' textLength="26.2" lengthAdjust="spacingAndGlyphs" >($5):</text>
<text x="297.1" y="52.6" font-size="12.4" fill="#000" stroke="#000" stroke-width="0.3" font-family='"Liberation Sans", sans-serif' textLength="31.9" lengthAdjust="spacingAndGlyphs" >March</text>
<text x="332.8" y="52.6" font-size="12.4" fill="#000" stroke="#000" stroke-width="0.3" font-family='"Liberation Sans", sans-serif' textLength="28.6" lengthAdjust="spacingAndGlyphs" >2022</text>
<rect x="7" y="685" width="257" height="16" fill="#f5f5f5" />
<text x="9.3" y="699" font-size="12.4" fill="#000" stroke="#000" stroke-width="0.3" font-family='"Liberation Sans", sans-serif' textLength="18.9" lengthAdjust="spacingAndGlyphs" >CD:</text>
<text x="32.4" y="699" font-size="12.4" fill="#000" stroke="#000" stroke-width="0.3" font-family='"Liberation Sans", sans-serif' textLength="15.4" lengthAdjust="spacingAndGlyphs" >No</text>
<text x="51.4" y="699" font-size="12.4" fill="#000" stroke="#000" stroke-width="0.3" font-family='"Liberation Sans", sans-serif' textLength="24" lengthAdjust="spacingAndGlyphs" >data</text>
<text x="80.2" y="699" font-size="12.4" fill="#000" stroke="#000" stroke-width="0.3" font-family='"Liberation Sans", sans-serif' textLength="14.3" lengthAdjust="spacingAndGlyphs" >for</text>
<text x="98.6" y="699" font-size="12.4" fill="#000" stroke="#000" stroke-width="0.3" font-family='"Liberation Sans", sans-serif' textLength="54.9" lengthAdjust="spacingAndGlyphs" >timeframe</text>
<text x="157.2" y="699" font-size="12.4" fill="#000" stroke="#000" stroke-width="0.3" font-family='"Liberation Sans", sans-serif' textLength="16.5" lengthAdjust="spacingAndGlyphs" >M1</text>
<text x="177.3" y="699" font-size="12.4" fill="#000" stroke="#000" stroke-width="0.3" font-family='"Liberation Sans", sans-serif' textLength="18.3" lengthAdjust="spacingAndGlyphs" >0.0</text>
<text x="199.2" y="699" font-size="12.4" fill="#000" stroke="#000" stroke-width="0.3" font-family='"Liberation Sans", sans-serif' textLength="36.2" lengthAdjust="spacingAndGlyphs" >-365.0</text>
<text x="239.6" y="699" font-size="12.4" fill="#000" stroke="#000" stroke-width="0.3" font-family='"Liberation Sans", sans-serif' textLength="21.8" lengthAdjust="spacingAndGlyphs" >-6.0</text>
<text x="1003.5" y="52.7" font-size="12.4" fill="#000" stroke="#000" stroke-width="0.3" font-family='"Liberation Sans", sans-serif' textLength="63.5" lengthAdjust="spacingAndGlyphs" >Bot FF 1.02</text>
<text x="1057.2" y="324" font-size="15.1" fill="#141414" stroke="#141414" stroke-width="0" font-family='"DejaVu Sans", sans-serif' textLength="29.4" lengthAdjust="spacingAndGlyphs" >32s</text>
<g fill="none" stroke-width="1.4">
<path d="M21.5 41.6H14.7a1.8 1.8 0 0 0-1.8 1.8v8.4a1.8 1.8 0 0 0 1.8 1.8H21.5" stroke="#e2483f" fill="#fff"/>
<path d="M21.5 41.6H28.4a1.8 1.8 0 0 1 1.8 1.8v8.4a1.8 1.8 0 0 1-1.8 1.8H21.5" stroke="#1b6fb4" fill="#fff"/>
<path d="M15.4 44H20.6" stroke="#f3a59c"/><path d="M15.4 47.6H20.6" stroke="#e2483f"/><path d="M15.4 51.2H20.6" stroke="#e2483f"/>
<path d="M22.4 44H28" stroke="#8cc4ee"/><path d="M22.4 47.6H28" stroke="#1b6fb4"/><path d="M22.4 51.2H28" stroke="#1b6fb4"/>
<path d="M40 42.6a1 1 0 0 1 1-1h1.8a1 1 0 0 1 1 1V46.4H46a1 1 0 0 1 1 1V52.6a1 1 0 0 1-1 1H41a1 1 0 0 1-1-1Z" stroke="#e2483f" fill="#fddad3"/>
<path d="M57 42.6a1 1 0 0 0-1-1h-1.6a1 1 0 0 0-1 1V46.4H51.2a1 1 0 0 0-1 1V52.6a1 1 0 0 0 1 1H56a1 1 0 0 0 1-1Z" stroke="#1b6fb4" fill="#bfe0fa"/>
<rect x="46" y="41.4" width="5.2" height="2.6" rx="1.1" stroke="#a8a8a8" stroke-width="0.9" fill="#fff"/>
</g>
<g stroke="#1b78c2" stroke-width="1.2" stroke-linejoin="round" stroke-linecap="round">
<path d="M1076.3 47.4V51.2C1078.2 53.6 1085.8 53.6 1087.7 51.2V47.4" fill="#c9e6fa"/>
<path d="M1073 45.2L1082 41.3L1091 45.2L1082 49.2Z" fill="#c9e6fa"/>
<path d="M1073.6 45.8V53.4" fill="none"/>
<circle cx="1073.6" cy="54" r="1.2" fill="#1b78c2"/>
</g>
<g shape-rendering="crispEdges">
<rect x="1005" y="57" width="80" height="14" fill="#32cd32" />
<rect x="1005" y="57" width="80" height="1" fill="#56e456" />
<rect x="1005" y="57" width="1" height="14" fill="#56e456" />
<rect x="1005" y="70" width="80" height="1" fill="#2aa82a" />
<rect x="1084" y="57" width="1" height="14" fill="#2aa82a" />
</g>
<svg x="1007" y="58" width="76" height="12" overflow="hidden">
<text x="-7.45" y="10.2" font-size="11.4" fill="#72687a"  font-family='"Liberation Mono", monospace' textLength="89.3" lengthAdjust="spacingAndGlyphs">Выкл.Торговля</text>
</svg>
<g shape-rendering="crispEdges">
<rect x="1005" y="75" width="37" height="14" fill="#32cd32" />
<rect x="1005" y="75" width="37" height="1" fill="#56e456" />
<rect x="1005" y="75" width="1" height="14" fill="#56e456" />
<rect x="1005" y="88" width="37" height="1" fill="#2aa82a" />
<rect x="1041" y="75" width="1" height="14" fill="#2aa82a" />
</g>
<svg x="1007" y="76" width="33" height="12" overflow="hidden">
<text x="-6.3" y="9.3" font-size="9.1" fill="#72687a" font-weight="bold" font-family='"Liberation Mono", monospace' textLength="44" lengthAdjust="spacingAndGlyphs">Выкл.BUY</text>
</svg>
<g shape-rendering="crispEdges">
<rect x="1048" y="75" width="37" height="14" fill="#32cd32" />
<rect x="1048" y="75" width="37" height="1" fill="#56e456" />
<rect x="1048" y="75" width="1" height="14" fill="#56e456" />
<rect x="1048" y="88" width="37" height="1" fill="#2aa82a" />
<rect x="1084" y="75" width="1" height="14" fill="#2aa82a" />
</g>
<svg x="1050" y="76" width="33" height="12" overflow="hidden">
<text x="-9.05" y="9.3" font-size="9.1" fill="#72687a" font-weight="bold" font-family='"Liberation Mono", monospace' textLength="49.5" lengthAdjust="spacingAndGlyphs">Выкл.SELL</text>
</svg>
</svg>
</body></html>
